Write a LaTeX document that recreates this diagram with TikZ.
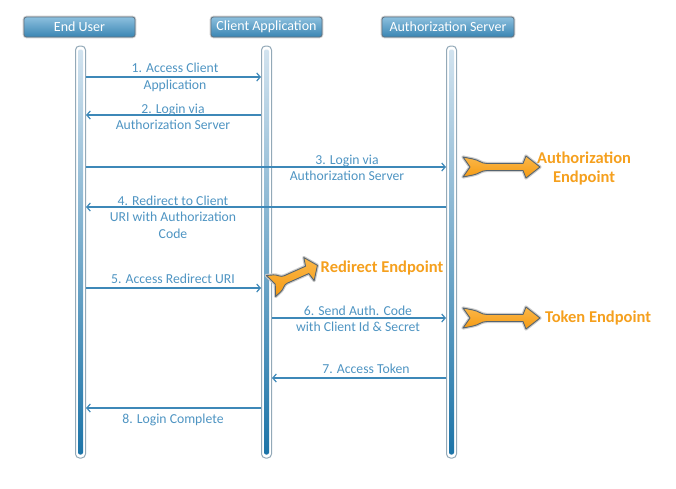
\documentclass[tikz,border=0pt]{standalone}
\usepackage{fontspec}
\setmainfont{Carlito}
\usetikzlibrary{arrows.meta}
\definecolor{msgblue}{HTML}{3D88B8}
\definecolor{txtblue}{HTML}{4E94C2}
\definecolor{orangetxt}{HTML}{F5A01E}
\definecolor{orangefill}{HTML}{F59A12}
\definecolor{orangelight}{HTML}{FBB84A}
\definecolor{arrowedge}{HTML}{56646F}
\definecolor{hdrtop}{HTML}{8CC0DE}
\definecolor{hdrbot}{HTML}{3A85B3}
\definecolor{hdredge}{HTML}{5E7282}
\definecolor{lifetop}{HTML}{D2E3EF}
\definecolor{lifebot}{HTML}{1C74A8}
\definecolor{lifeedge}{HTML}{93A9B8}
\tikzset{
  header/.style={draw=hdredge, line width=0.8pt, rounded corners=2.5pt,
    preaction={draw=black!18, line width=2.6pt},
    top color=hdrtop, bottom color=hdrbot, text=white,
    font=\fontsize{14}{15}\selectfont, minimum height=20, inner sep=0pt},
  lifeouter/.style={draw=lifeedge, line width=1pt, fill=white, rounded corners=4pt,
    minimum width=10, minimum height=412, inner sep=0pt},
  lifeinner/.style={top color=lifetop, bottom color=lifebot, rounded corners=2pt,
    minimum width=5, minimum height=405, inner sep=0pt},
  msg/.style={draw=msgblue, line width=1.2pt, -{Straight Barb[length=3.5pt,width=8pt]}},
  lbl/.style={text=txtblue, font=\fontsize{13.7}{16.5}\selectfont, align=center, inner sep=0pt},
  ep/.style={text=orangetxt, font=\bfseries\fontsize{16.5}{19}\selectfont, align=center, inner sep=0pt},
  pics/blockarrow/.style={code={
    \path[draw=black!20, line width=3.2pt, line join=round]
      (0,10) -- (10,8) .. controls (16,7) and (18,3.5) .. (24,3.5) -- (60,3.5) -- (63,11)
      -- (77,0) -- (63,-11) -- (60,-3.5) -- (24,-3.5) .. controls (18,-3.5) and (16,-7) .. (10,-8)
      -- (0,-10) -- (7,0) -- cycle;
    \path[top color=orangelight, bottom color=orangefill, draw=arrowedge, line width=0.9pt, line join=round]
      (0,10) -- (10,8) .. controls (16,7) and (18,3.5) .. (24,3.5) -- (60,3.5) -- (63,11)
      -- (77,0) -- (63,-11) -- (60,-3.5) -- (24,-3.5) .. controls (18,-3.5) and (16,-7) .. (10,-8)
      -- (0,-10) -- (7,0) -- cycle;
  }}
}
\begin{document}
\begin{tikzpicture}[x=1pt,y=-1pt]
\useasboundingbox (0,0) rectangle (676,488);
% headers
\node[header, minimum width=111] (hEU) at (79.5,27) {End User};
\node[header, minimum width=111] (hCA) at (266.5,27) {Client Application};
\node[header, minimum width=132] (hAS) at (448,27) {Authorization Server};
% lifelines
\node[lifeouter] (L1) at (80.5,252) {};
\node[lifeinner] (L1i) at (L1.center) {};
\node[lifeouter] (L2) at (266.5,252) {};
\node[lifeinner] (L2i) at (L2.center) {};
\node[lifeouter] (L3) at (451.5,252) {};
\node[lifeinner] (L3i) at (L3.center) {};
% message heights
\coordinate (m1) at (0,77);
\coordinate (m2) at (0,115);
\coordinate (m3) at (0,167);
\coordinate (m4) at (0,207);
\coordinate (m5) at (0,288);
\coordinate (m6) at (0,318);
\coordinate (m7) at (0,378);
\coordinate (m8) at (0,408);
% messages
\draw[msg] (L1.east |- m1) -- (L2.west |- m1);
\draw[msg] (L2.west |- m2) -- (L1.east |- m2);
\draw[msg] (L1.east |- m3) -- (L3.west |- m3);
\draw[msg] (L3.west |- m4) -- (L1.east |- m4);
\draw[msg] (L1.east |- m5) -- (L2.west |- m5);
\draw[msg] (L2.east |- m6) -- (L3.west |- m6);
\draw[msg] (L3.west |- m7) -- (L2.east |- m7);
\draw[msg] (L2.west |- m8) -- (L1.east |- m8);
% labels
\node[lbl] (t1) at (175,77.5) {1. Access Client\\Application};
\node[lbl] (t2) at (173,117) {2. Login via\\Authorization Server};
\node[lbl] (t3) at (347,168) {3. Login via\\Authorization Server};
\node[lbl] (t4) at (173,217) {4. Redirect to Client\\URI with Authorization\\Code};
\node[lbl] (t5) at (173,279) {5. Access Redirect URI};
\node[lbl] (t6) at (358,319) {6. Send Auth. Code\\with Client Id \& Secret};
\node[lbl] (t7) at (366,369) {7. Access Token};
\node[lbl] (t8) at (173,420) {8. Login Complete};
% endpoint arrows
\pic at (463,167) {blockarrow};
\pic at (463,318) {blockarrow};
\pic[rotate=24, xscale=0.66, yscale=1.15] at (271,286) {blockarrow};
\node[ep] (e1) at (584,168) {Authorization\\Endpoint};
\node[ep] (e2) at (382,268) {Redirect Endpoint};
\node[ep] (e3) at (598,318) {Token Endpoint};
\end{tikzpicture}
\end{document}
